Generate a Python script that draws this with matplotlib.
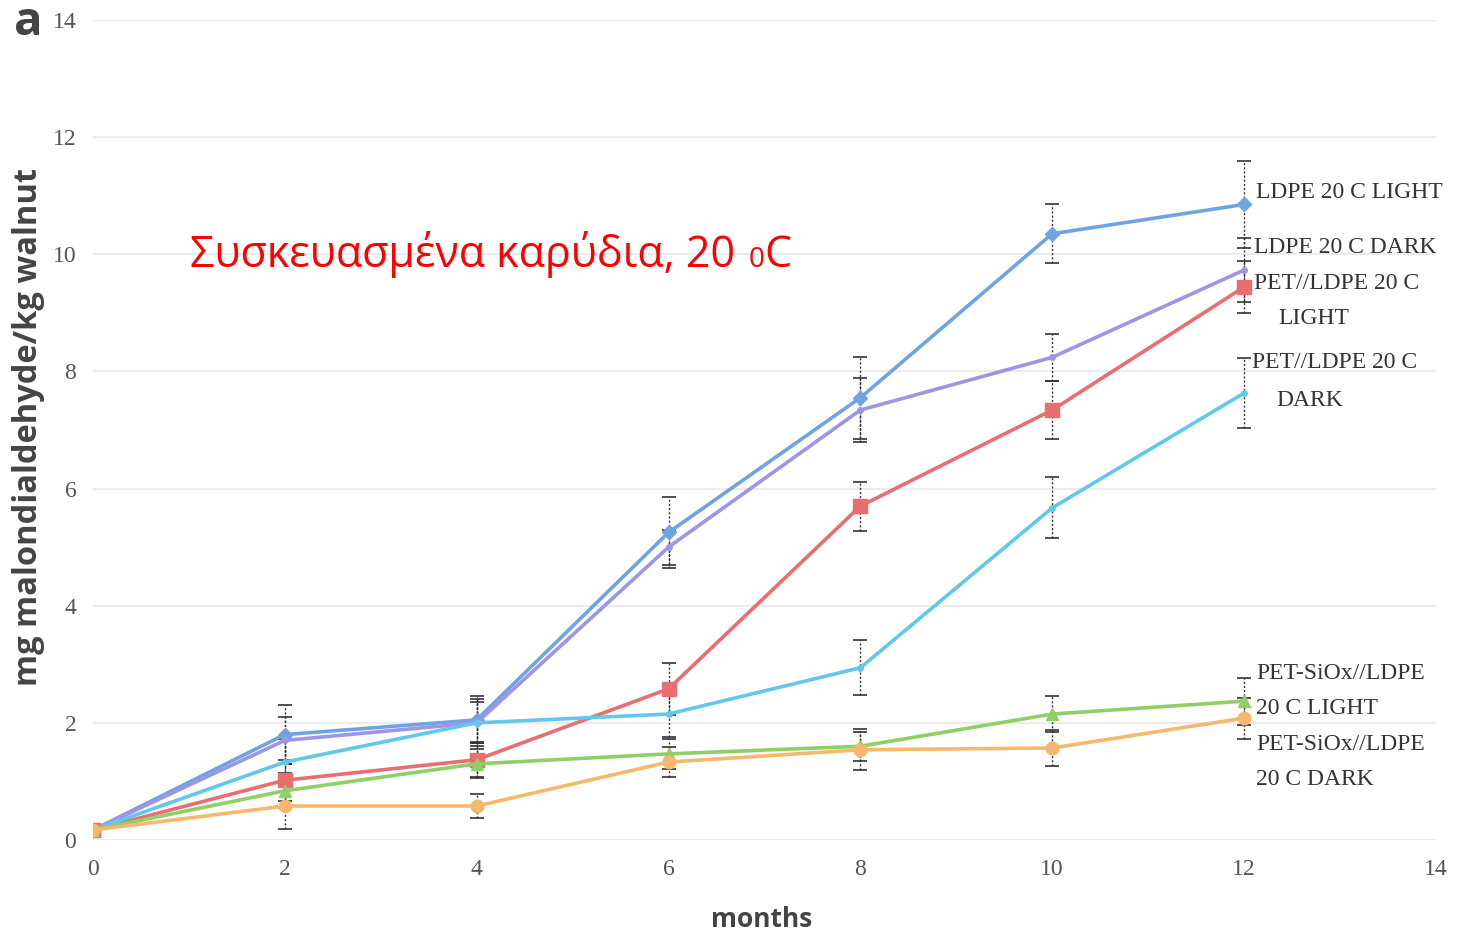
import matplotlib
matplotlib.use("Agg")
import matplotlib.pyplot as plt
from matplotlib.transforms import offset_copy

months = [0, 2, 4, 6, 8, 10, 12]

ldpe_light = [0.17, 1.80, 2.05, 5.25, 7.55, 10.35, 10.85]
ldpe_light_err = [0.05, 0.50, 0.40, 0.60, 0.70, 0.50, 0.75]

ldpe_dark = [0.17, 1.70, 2.00, 5.00, 7.34, 8.24, 9.73]
ldpe_dark_err = [0.05, 0.40, 0.40, 0.30, 0.55, 0.40, 0.55]

pet_light = [0.17, 1.02, 1.37, 2.58, 5.70, 7.34, 9.44]
pet_light_err = [0.05, 0.35, 0.30, 0.45, 0.42, 0.50, 0.45]

pet_dark = [0.17, 1.33, 2.00, 2.15, 2.94, 5.67, 7.63]
pet_dark_err = [0.05, 0.40, 0.35, 0.40, 0.47, 0.52, 0.60]

siox_light = [0.17, 0.84, 1.30, 1.47, 1.60, 2.15, 2.37]
siox_light_err = [0.05, 0.30, 0.25, 0.25, 0.25, 0.30, 0.40]

siox_dark = [0.17, 0.58, 0.58, 1.33, 1.54, 1.57, 2.08]
siox_dark_err = [0.05, 0.40, 0.20, 0.25, 0.35, 0.30, 0.35]

series = [
    (ldpe_light, ldpe_light_err, "#6fa4e2", "D", 7),
    (ldpe_dark, ldpe_dark_err, "#9d95e8", "o", 4),
    (pet_light, pet_light_err, "#ea6d6f", "s", 10),
    (pet_dark, pet_dark_err, "#62c8ea", "o", 4),
    (siox_light, siox_light_err, "#8ecf66", "^", 8),
    (siox_dark, siox_dark_err, "#f6b86d", "o", 9),
]

fig = plt.figure(figsize=(14.58, 9.38), dpi=100)
ax = fig.add_axes([0.0638, 0.1045, 0.921, 0.8742])

for y, e, c, m, ms in series:
    cont = ax.errorbar(months, y, yerr=e, color=c, lw=2.6, marker=m, ms=ms,
                       mec=c, mfc=c, ecolor="#333333", elinewidth=1.0,
                       capsize=5, capthick=1.2, zorder=3)
    cont[2][0].set_linestyle((0, (1.5, 1.5)))

ax.set_xlim(0, 14)
ax.set_ylim(0, 14)
ax.set_xticks(range(0, 15, 2))
ax.set_yticks(range(0, 15, 2))
ax.grid(axis="y", color="#ececec", lw=1.6)
ax.set_axisbelow(True)
for s in ax.spines.values():
    s.set_visible(False)
ax.tick_params(length=0, labelsize=17, labelcolor="#555555")
ax.tick_params(axis="x", pad=14)
ax.tick_params(axis="y", pad=12)
for lab in ax.get_xticklabels() + ax.get_yticklabels():
    lab.set_fontfamily("Liberation Serif")

ax.set_xlabel("months", fontsize=19, fontweight="bold", color="#444444",
              family="Open Sans")
ax.xaxis.set_label_coords(0.498, -0.08)
ax.set_ylabel("mg malondialdehyde/kg walnut", fontsize=23.5, fontweight="bold",
              color="#444444", family="Open Sans")
ax.yaxis.set_label_coords(-0.036, 0.504)

fig.text(0.0195, 0.9765, "a", fontsize=34, fontweight="bold", color="#444444",
         family="Open Sans", va="center", ha="center")

# red title: the "0" before C is set smaller
red_kw = dict(color="red", family="Open Sans", va="baseline", ha="left")
t1 = ax.text(1.01, 9.78, "Συσκευασμένα καρύδια, 20 ", fontsize=31, **red_kw)
fig.canvas.draw()
r = fig.canvas.get_renderer()
w1 = t1.get_window_extent(r).width
t2 = ax.text(1.01, 9.78, "0", fontsize=20,
             transform=offset_copy(ax.transData, fig=fig, x=w1 * 72 / 100 + 2,
                                   y=0, units="points"), **red_kw)
w2 = t2.get_window_extent(r).width
ax.text(1.01, 9.78, "C", fontsize=31,
        transform=offset_copy(ax.transData, fig=fig, x=(w1 + w2) * 72 / 100 + 2,
                              y=0, units="points"), **red_kw)

lab_kw = dict(fontsize=17, family="Liberation Serif", color="#333333",
              va="center", ha="left")
ax.text(12.12, 11.05, "LDPE 20 C LIGHT", **lab_kw)
ax.text(12.10, 10.12, "LDPE 20 C DARK", **lab_kw)
ax.text(12.10, 9.5, "PET//LDPE 20 C", **lab_kw)
ax.text(12.36, 8.9, "LIGHT", **lab_kw)
ax.text(12.08, 8.15, "PET//LDPE 20 C", **lab_kw)
ax.text(12.34, 7.5, "DARK", **lab_kw)
ax.text(12.13, 2.85, "PET-SiOx//LDPE", **lab_kw)
ax.text(12.13, 2.24, "20 C LIGHT", **lab_kw)
ax.text(12.13, 1.63, "PET-SiOx//LDPE", **lab_kw)
ax.text(12.13, 1.03, "20 C DARK", **lab_kw)

fig.savefig("out.png", dpi=100)
